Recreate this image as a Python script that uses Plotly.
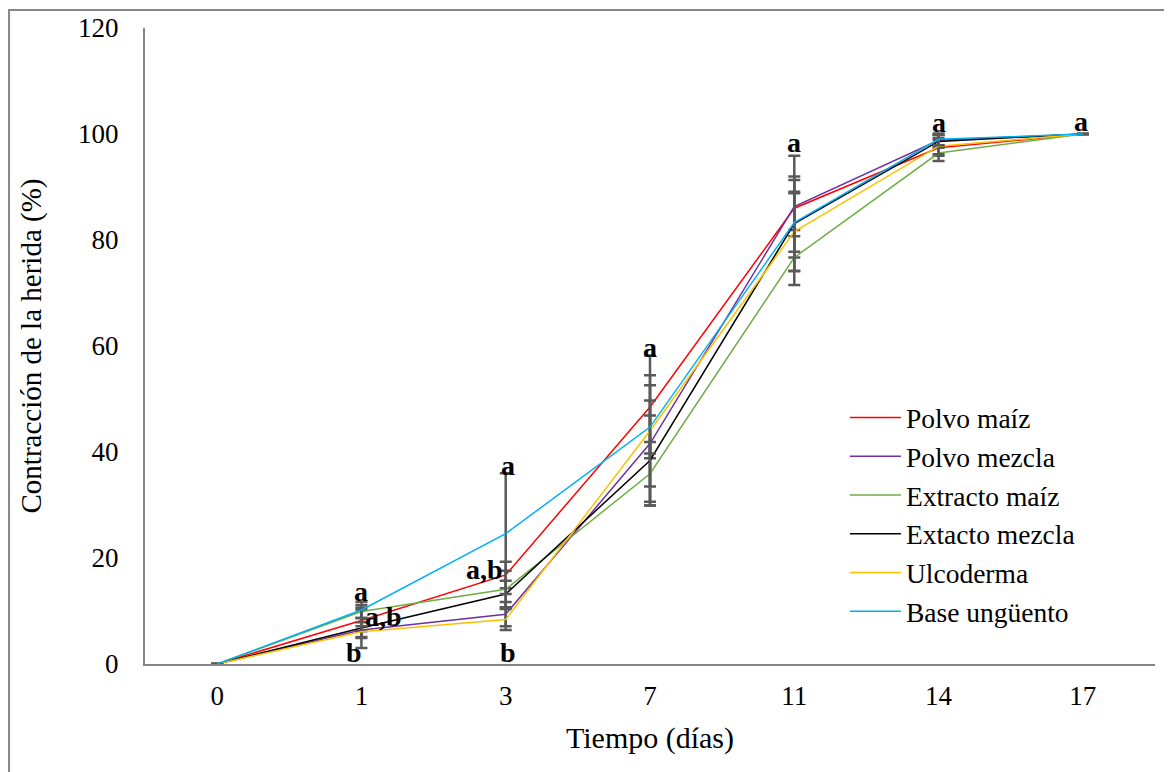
import plotly.graph_objects as go

days = ["0", "1", "3", "7", "11", "14", "17"]

series_names = ["Polvo maíz", "Polvo mezcla", "Extracto maíz", "Extacto mezcla", "Ulcoderma", "Base ungüento"]
series_colors = ["#FF0000", "#7030A0", "#70AD47", "#000000", "#FFC000", "#00B0F0"]

polvo_maiz = [0, 8.2, 16.8, 48.5, 86.0, 97.4, 100]
polvo_maiz_err = [0, 2.0, 2.5, 9.7, 5.3, 1.5, 0]
polvo_mezcla = [0, 6.4, 9.4, 41.6, 86.3, 98.8, 100]
polvo_mezcla_err = [0, 1.5, 2.3, 11.0, 9.6, 1.0, 0]
extracto_maiz = [0, 9.9, 14.1, 35.9, 76.7, 96.4, 100]
extracto_maiz_err = [0, 1.2, 3.5, 6.0, 5.2, 1.5, 0]
extacto_mezcla = [0, 6.8, 13.2, 38.4, 83.1, 98.6, 100]
extacto_mezcla_err = [0, 3.8, 2.5, 8.5, 8.9, 1.2, 0]
ulcoderma = [0, 6.1, 8.4, 44.0, 81.6, 97.7, 100]
ulcoderma_err = [0, 1.0, 2.0, 10.5, 7.5, 1.5, 0]
base_unguento = [0, 10.2, 24.6, 44.7, 83.3, 99.0, 100]
base_unguento_err = [0, 1.5, 11.4, 5.0, 5.5, 1.1, 0]

values = [polvo_maiz, polvo_mezcla, extracto_maiz, extacto_mezcla, ulcoderma, base_unguento]
errors = [polvo_maiz_err, polvo_mezcla_err, extracto_maiz_err, extacto_mezcla_err, ulcoderma_err, base_unguento_err]

# significance letters: (day, y value, text, horizontal shift px)
letter_days = ["1", "1", "1", "3", "3", "3", "7", "11", "14", "17"]
letter_y = [13.7, 8.9, 2.2, 37.4, 17.8, 2.2, 59.8, 98.4, 102.2, 102.4]
letter_text = ["a", "a,b", "b", "a", "a,b", "b", "a", "a", "a", "a"]
letter_shift = [0, 22, -7, 2, -21, 2, 0, 0, 0, -2]

FONT = "Liberation Serif"
fig = go.Figure()
for name, color, v, e in zip(series_names, series_colors, values, errors):
    fig.add_trace(go.Scatter(
        x=days, y=v, name=name, mode="lines",
        line=dict(color=color, width=1.5),
        error_y=dict(type="data", array=e, visible=True, color="#595959", thickness=2.5, width=6),
        legendgroup=name,
    ))

annotations = []
for d, yv, t, s in zip(letter_days, letter_y, letter_text, letter_shift):
    annotations.append(dict(
        x=days.index(d), y=yv, xref="x", yref="y", text="<b>%s</b>" % t,
        showarrow=False, xshift=s, font=dict(family=FONT, size=28, color="black"),
    ))

# the page body has an 8px margin; the figure is sized to fit the 1172x772 window
fig.update_layout(
    width=1164, height=764,
    margin=dict(l=137, r=17, t=20, b=108),
    paper_bgcolor="white", plot_bgcolor="white",
    font=dict(family=FONT, color="black"),
    showlegend=True,
    legend=dict(
        x=0.693, y=0.426, xanchor="left", yanchor="top",
        font=dict(family=FONT, size=27.5), itemwidth=51,
        tracegroupgap=0, bgcolor="rgba(0,0,0,0)",
    ),
    xaxis=dict(
        type="category", range=[-0.5, 6.5], showgrid=False, automargin=False,
        showline=True, linecolor="#868686", linewidth=2,
        ticks="", tickfont=dict(family=FONT, size=27),
        ticklabelstandoff=7,
        title=dict(text="Tiempo (días)", font=dict(family=FONT, size=30), standoff=17),
    ),
    yaxis=dict(
        range=[0, 120], dtick=20, showgrid=False, zeroline=False, automargin=False,
        showline=True, linecolor="#868686", linewidth=2,
        ticks="", tickfont=dict(family=FONT, size=27),
        ticklabelstandoff=19,
        title=dict(text="Contracción de la herida (%)", font=dict(family=FONT, size=29), standoff=28),
    ),
    annotations=annotations,
    shapes=[dict(
        type="rect", xref="paper", yref="paper",
        x0=-0.1346, x1=1.02, y0=-0.18, y1=1.0283,
        line=dict(color="#868686", width=2), fillcolor="rgba(0,0,0,0)", layer="below",
    )],
)

fig.write_html("out.html")
